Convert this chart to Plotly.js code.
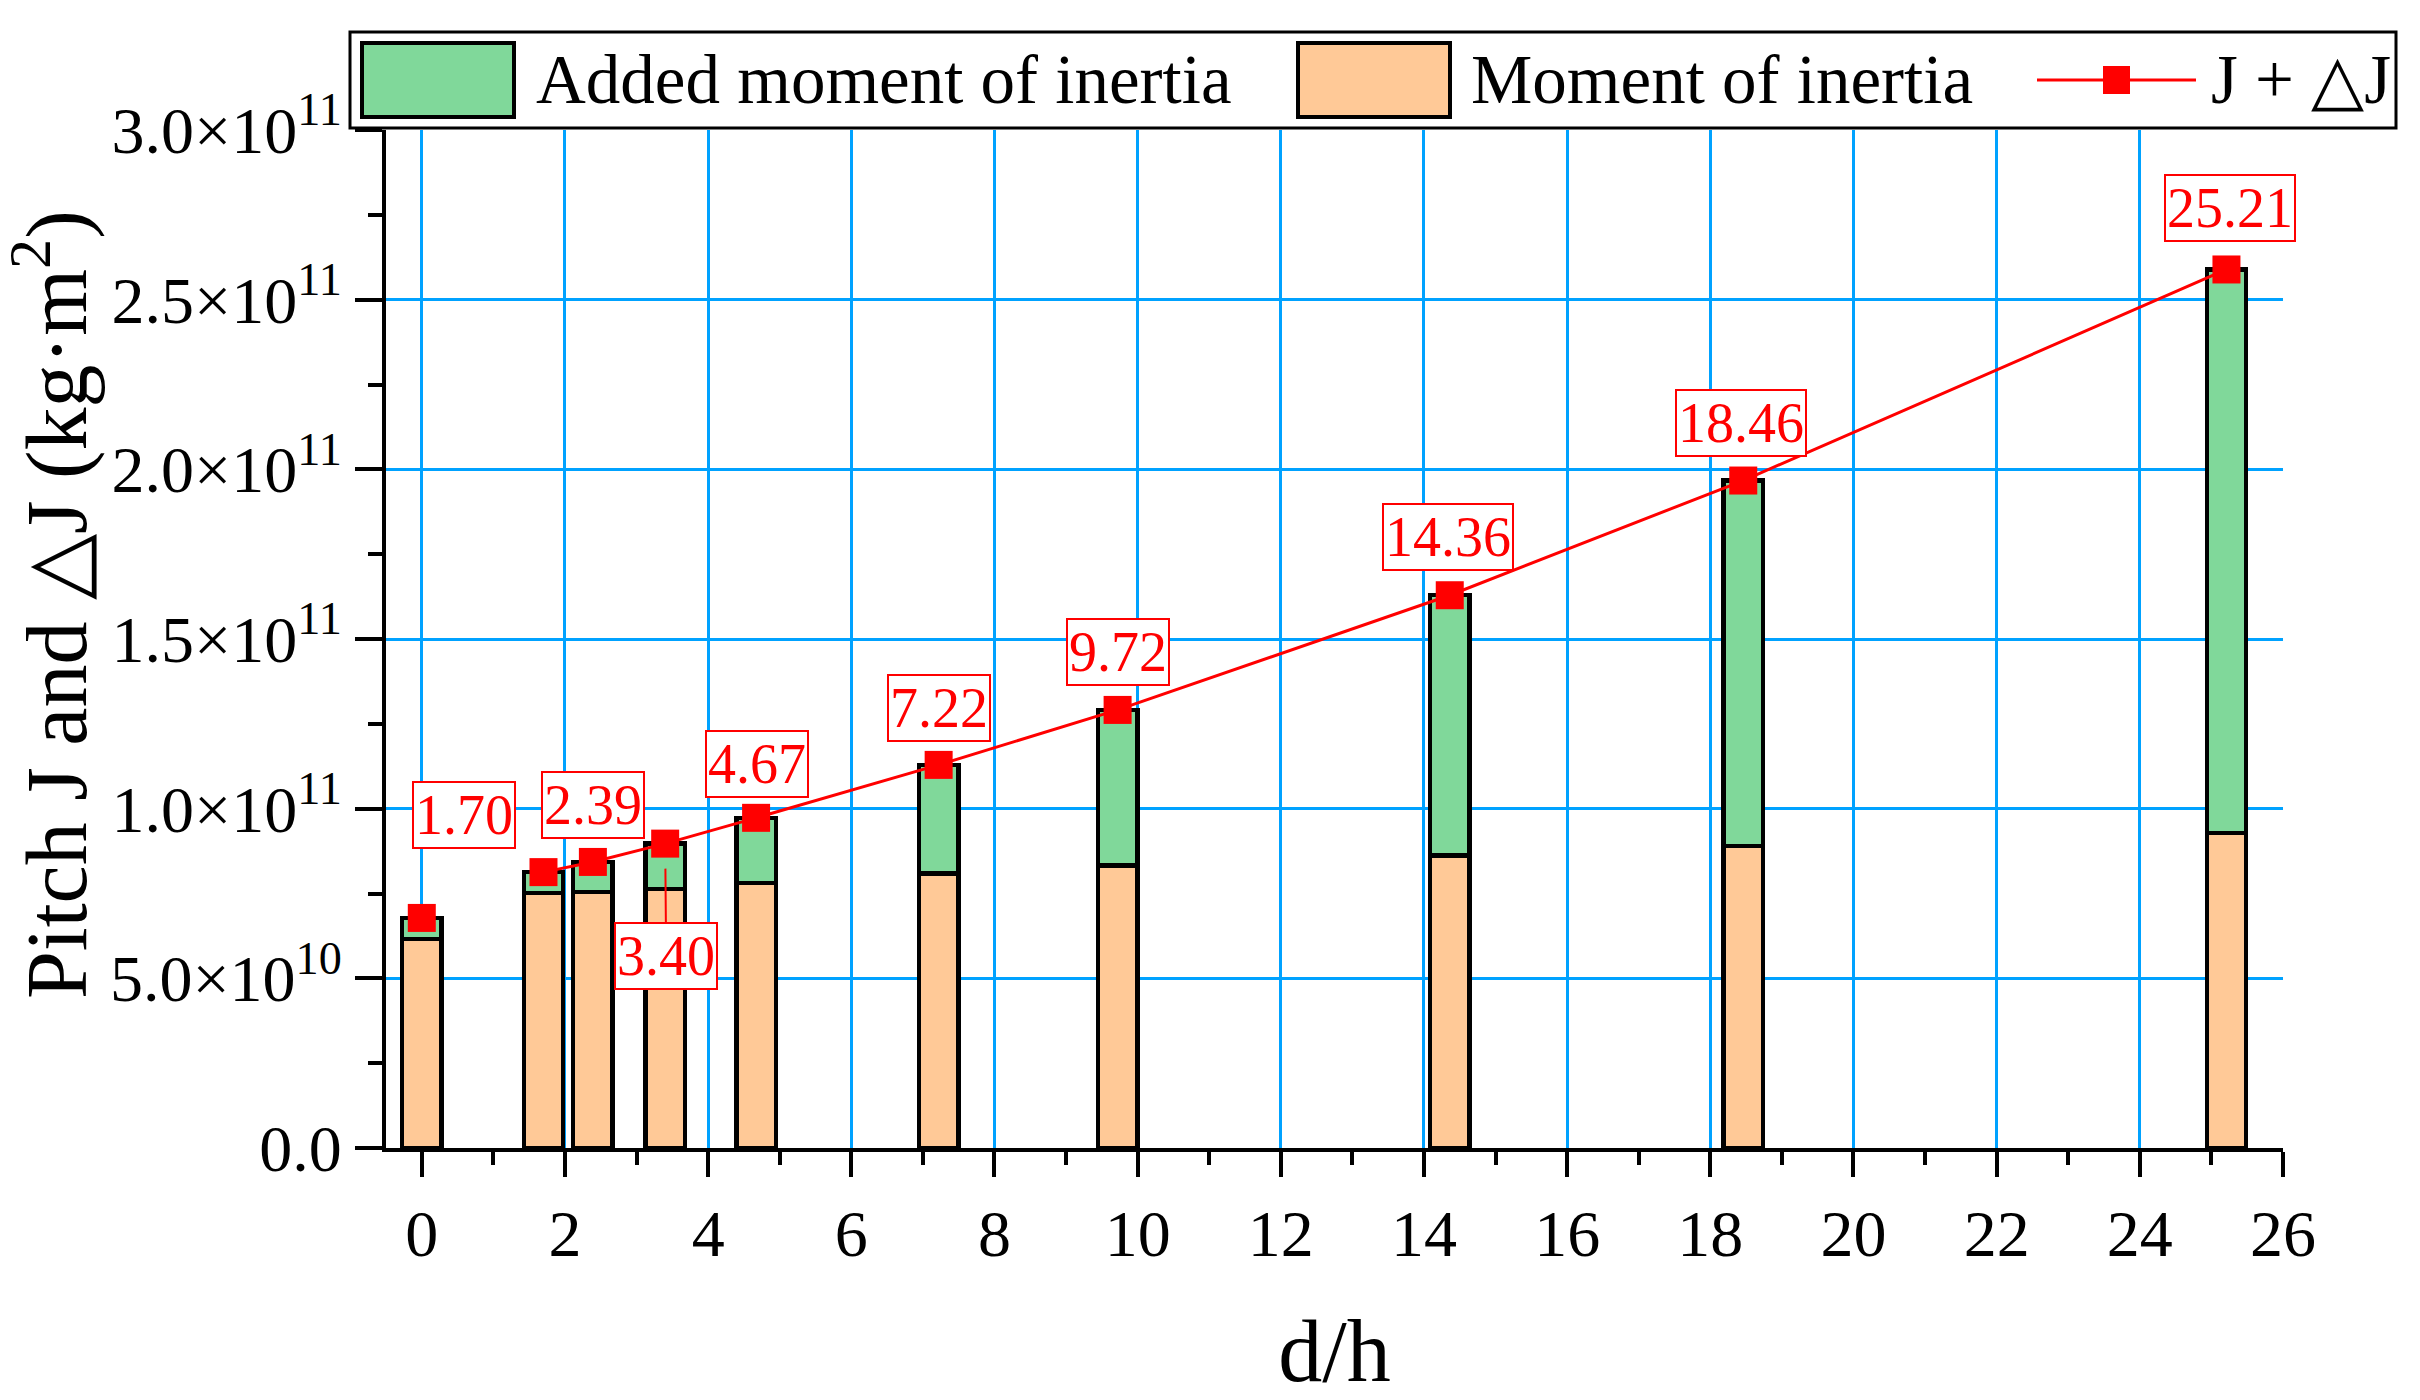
<!DOCTYPE html>
<html>
<head>
<meta charset="utf-8">
<script src="https://cdn.plot.ly/plotly-3.0.1.min.js"></script>
<style>
  html, body { margin: 0; padding: 0; background: #fff; }
  #plot { width: 2420px; height: 1400px; }
</style>
</head>
<body>
<div id="plot"></div>
<script>
// d/h positions of the bars
var dh = [0, 1.70, 2.39, 3.40, 4.67, 7.22, 9.72, 14.36, 18.46, 25.21];
// moment of inertia J (kg m^2)
var inertia = [0.616e11, 0.751e11, 0.755e11, 0.764e11, 0.781e11, 0.809e11, 0.832e11, 0.862e11, 0.890e11, 0.929e11];
// added moment of inertia dJ
var added = [0.062e11, 0.062e11, 0.088e11, 0.133e11, 0.192e11, 0.320e11, 0.459e11, 0.767e11, 1.077e11, 1.660e11];
// J + dJ (line)
var total = [0.678e11, 0.813e11, 0.843e11, 0.897e11, 0.973e11, 1.129e11, 1.291e11, 1.629e11, 1.967e11, 2.589e11];

var yTickVals = [0, 0.5e11, 1.0e11, 1.5e11, 2.0e11, 2.5e11, 3.0e11];
var yTickText = ['0.0', '5.0×10<sup>10</sup>', '1.0×10<sup>11</sup>', '1.5×10<sup>11</sup>',
                 '2.0×10<sup>11</sup>', '2.5×10<sup>11</sup>', '3.0×10<sup>11</sup>'];

var FONT = 'Liberation Serif, Times New Roman, serif';
var GREEN = '#80D89A', ORANGE = '#FFC997', RED = '#FF0000', GRID = '#00A2FF';

// plot area in px
var W = 2420, H = 1400;
var M = {l: 386, r: 137, t: 130, b: 252};
var pw = W - M.l - M.r, ph = H - M.t - M.b;
function px(x) { return (x - M.l) / pw; }
function py(y) { return (H - M.b - y) / ph; }

var traces = [
  {
    type: 'bar', x: dh, y: inertia, width: 0.55, name: 'Moment of inertia',
    marker: {color: ORANGE, line: {color: '#000', width: 4.5}}
  },
  {
    type: 'bar', x: dh, y: added, width: 0.55, name: 'Added moment of inertia',
    marker: {color: GREEN, line: {color: '#000', width: 4.5}}
  },
  {
    type: 'scatter', mode: 'lines', x: dh.slice(1), y: total.slice(1),
    line: {color: RED, width: 3}
  },
  {
    type: 'scatter', mode: 'markers', x: dh, y: total, name: 'J + △J',
    marker: {color: RED, symbol: 'square', size: 28}
  }
];

// value labels: [xshift, yshift] in px relative to the point
var labelShift = [null, [-79, 57], [0, 57], null, [1, 54], [0, 57], [0, 58], [-2, 58], [-2, 58], [4, 61]];
var annotations = [];
for (var i = 1; i < dh.length; i++) {
  var a = {
    x: dh[i], y: total[i], text: dh[i].toFixed(2),
    font: {family: FONT, size: 56, color: RED},
    bgcolor: '#fff', bordercolor: RED, borderwidth: 2, borderpad: 1
  };
  if (labelShift[i]) {
    a.showarrow = false; a.xshift = labelShift[i][0]; a.yshift = labelShift[i][1];
  } else {
    a.showarrow = true; a.arrowhead = 0; a.arrowwidth = 2; a.arrowcolor = RED;
    a.ax = 1; a.ay = 112; a.standoff = 25;
  }
  annotations.push(a);
}

// y axis title (sits a bit above the plot centre in the original)
annotations.push({
  xref: 'paper', yref: 'paper', x: px(50), y: py(605), xanchor: 'center', yanchor: 'middle',
  textangle: -90, showarrow: false,
  text: 'Pitch J and △J (kg·m<sup>2</sup>)', font: {family: FONT, size: 86, color: '#000'}
});

// legend drawn by hand (big swatches)
var shapes = [
  {type: 'rect', xref: 'paper', yref: 'paper', x0: px(350), x1: px(2396), y0: py(128), y1: py(32),
   line: {color: '#000', width: 3}, fillcolor: '#fff', layer: 'above'},
  {type: 'rect', xref: 'paper', yref: 'paper', x0: px(362), x1: px(514), y0: py(117), y1: py(43),
   line: {color: '#000', width: 4}, fillcolor: GREEN, layer: 'above'},
  {type: 'rect', xref: 'paper', yref: 'paper', x0: px(1298), x1: px(1450), y0: py(117), y1: py(43),
   line: {color: '#000', width: 4}, fillcolor: ORANGE, layer: 'above'},
  {type: 'line', xref: 'paper', yref: 'paper', x0: px(2037), x1: px(2196), y0: py(80), y1: py(80),
   line: {color: RED, width: 3}, layer: 'above'},
  {type: 'rect', xref: 'paper', yref: 'paper', x0: px(2103), x1: px(2130), y0: py(94), y1: py(66),
   line: {width: 0}, fillcolor: RED, layer: 'above'}
];
var legendText = [['Added moment of inertia', 534], ['Moment of inertia', 1469], ['J + △J', 2209]];
legendText.forEach(function (t) {
  annotations.push({xref: 'paper', yref: 'paper', x: px(t[1]), y: py(80), xanchor: 'left', yanchor: 'middle',
    text: t[0], showarrow: false, font: {family: FONT, size: 69, color: '#000'}});
});

var layout = {
  width: W, height: H,
  margin: M,
  paper_bgcolor: '#fff', plot_bgcolor: '#fff',
  barmode: 'stack', showlegend: false,
  font: {family: FONT, color: '#000'},
  xaxis: {
    range: [-0.5, 26], tick0: 0, dtick: 2,
    showgrid: true, gridcolor: GRID, gridwidth: 3, zeroline: false,
    showline: true, linecolor: '#000', linewidth: 4,
    ticks: 'outside', ticklen: 25, tickwidth: 4, tickcolor: '#000',
    minor: {dtick: 1, ticks: 'outside', ticklen: 13, tickwidth: 4, tickcolor: '#000', showgrid: false},
    tickfont: {family: FONT, size: 66},
    title: {text: 'd/h', font: {family: FONT, size: 88}, standoff: 55}
  },
  yaxis: {
    range: [0, 3.0e11], tickmode: 'array', tickvals: yTickVals, ticktext: yTickText,
    showgrid: true, gridcolor: GRID, gridwidth: 3, zeroline: false,
    showline: true, linecolor: '#000', linewidth: 4,
    ticks: 'outside', ticklen: 27, tickwidth: 4, tickcolor: '#000',
    minor: {tickmode: 'linear', tick0: 0, dtick: 0.25e11, ticks: 'outside', ticklen: 14, tickwidth: 4, tickcolor: '#000', showgrid: false},
    tickfont: {family: FONT, size: 66}
  },
  shapes: shapes,
  annotations: annotations
};

Plotly.newPlot('plot', traces, layout, {staticPlot: true});
</script>
</body>
</html>
